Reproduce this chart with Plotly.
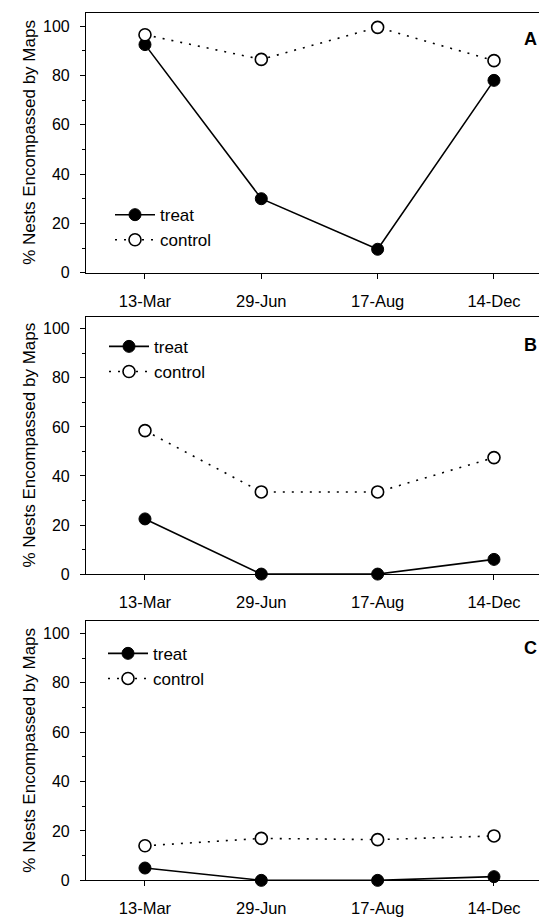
import plotly.graph_objects as go

dates = ["13-Mar", "29-Jun", "17-Aug", "14-Dec"]
panel_labels = ["A", "B", "C"]
treat_A = [92.5, 30, 9.5, 78]
control_A = [96.5, 86.5, 99.5, 86]
treat_B = [22.5, 0, 0, 6]
control_B = [58.5, 33.5, 33.5, 47.5]
treat_C = [5, 0, 0, 1.5]
control_C = [14, 17, 16.5, 18]
y_ticks = [0, 20, 40, 60, 80, 100]
y_minor = [10, 30, 50, 70, 90]
y_title = "% Nests Encompassed by Maps"

W, H = 547, 918
FONT = "Liberation Sans, Arial, sans-serif"

# panel pixel boxes: (top, y100, bottom)
boxes = [(5, 18.3, 267.3), (312, 324, 571.7), (619, 631.7, 881)]
x_left, x_right = 78, 541
legend_pos = [(102, 191), (96, 324), (95, 634)]
letter_pos = [(522, 31), (522, 340), (522, 646)]

data = [(treat_A, control_A), (treat_B, control_B), (treat_C, control_C)]

fig = go.Figure()
for i, (tr, ct) in enumerate(data):
    n = "" if i == 0 else str(i + 1)
    leg = "legend" if i == 0 else f"legend{i + 1}"
    fig.add_trace(go.Scatter(
        x=dates, y=tr, name="treat", mode="lines+markers",
        line=dict(color="black", width=1.6),
        marker=dict(symbol="circle", size=12, color="black", line=dict(color="black", width=1)),
        xaxis="x" + n, yaxis="y" + n, legend=leg, legendgroup=f"t{i}", cliponaxis=False))
    fig.add_trace(go.Scatter(
        x=dates, y=ct, name="control", mode="lines+markers",
        line=dict(color="black", width=1.6, dash="2px,7px"),
        marker=dict(symbol="circle", size=12, color="white", line=dict(color="black", width=1.6)),
        xaxis="x" + n, yaxis="y" + n, legend=leg, legendgroup=f"c{i}", cliponaxis=False))

layout = dict(
    width=W, height=H,
    margin=dict(l=0, r=0, t=0, b=0),
    paper_bgcolor="white", plot_bgcolor="white",
    font=dict(family=FONT, size=16, color="black"),
    annotations=[],
    showlegend=True,
)
for i, (top, y100, bot) in enumerate(boxes):
    n = "" if i == 0 else str(i + 1)
    px_per = (bot - y100) / 100.0
    ytop = (bot - top) / px_per
    layout["xaxis" + n] = dict(
        domain=[x_left / W, x_right / W], anchor="y" + n,
        type="category", categoryorder="array", categoryarray=dates,
        range=[-0.507, 3.473], showgrid=False, zeroline=False,
        showline=True, linecolor="black", linewidth=1.2, mirror=True,
        ticks="outside", ticklen=5, tickcolor="black", tickwidth=1,
        ticklabelstandoff=8,
        tickfont=dict(size=16.5, family=FONT), fixedrange=True)
    layout["yaxis" + n] = dict(
        domain=[1 - bot / H, 1 - top / H], anchor="x" + n,
        range=[0, ytop], tickvals=y_ticks, showgrid=False, zeroline=False,
        showline=True, linecolor="black", linewidth=1.2, mirror=True,
        ticks="outside", ticklen=5, tickcolor="black", tickwidth=1,
        ticklabelstandoff=7,
        minor=dict(tickvals=y_minor, ticks="outside", ticklen=3, tickcolor="black"),
        tickfont=dict(size=16, family=FONT), fixedrange=True)
    leg = "legend" if i == 0 else f"legend{i + 1}"
    lx, ly = legend_pos[i]
    layout[leg] = dict(
        x=lx / W, y=1 - ly / H, xanchor="left", yanchor="top", xref="paper", yref="paper",
        bgcolor="rgba(0,0,0,0)", borderwidth=0, traceorder="grouped",
        tracegroupgap=0, itemwidth=40, font=dict(size=17, family=FONT, color="black"))
    cy = (bot + top) / 2
    layout["annotations"].append(dict(
        text=y_title, textangle=-90, x=22 / W, y=1 - cy / H, xref="paper", yref="paper",
        showarrow=False, font=dict(size=17, family=FONT), xanchor="center", yanchor="middle"))
    lxp, lyp = letter_pos[i]
    layout["annotations"].append(dict(
        text="<b>" + panel_labels[i] + "</b>", x=lxp / W, y=1 - lyp / H, xref="paper", yref="paper",
        showarrow=False, font=dict(size=18, family=FONT), xanchor="center", yanchor="middle"))

fig.update_layout(**layout)
fig.write_html("out.html")
